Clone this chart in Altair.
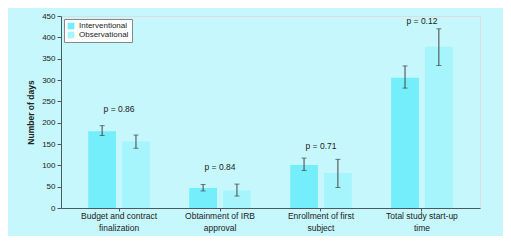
import altair as alt
import pandas as pd

categories = ["Budget and contract\nfinalization", "Obtainment of IRB\napproval",
              "Enrollment of first\nsubject", "Total study start-up\ntime"]
groups = ["Interventional", "Observational"]
interventional = [180, 47, 101, 305]
interventional_lo = [170, 40, 88, 281]
interventional_hi = [193, 55, 117, 333]
observational = [156, 41, 82, 378]
observational_lo = [140, 28, 48, 334]
observational_hi = [171, 56, 114, 420]
p_values = ["p = 0.86", "p = 0.84", "p = 0.71", "p = 0.12"]
p_label_y = [232, 95, 146, 438]
y_ticks = [0, 50, 100, 150, 200, 250, 300, 350, 400, 450]

rows = []
for i, c in enumerate(categories):
    rows.append({"cat": c, "group": groups[0], "val": interventional[i],
                 "lo": interventional_lo[i], "hi": interventional_hi[i]})
    rows.append({"cat": c, "group": groups[1], "val": observational[i],
                 "lo": observational_lo[i], "hi": observational_hi[i]})
df = pd.DataFrame(rows)
pdf = pd.DataFrame({"cat": categories, "p": p_values, "py": p_label_y})

FONT = "Liberation Sans"
xscale = alt.Scale(domain=categories, paddingInner=0.39, paddingOuter=0.27)
yscale = alt.Scale(domain=[0, 450], nice=False, zero=True)
x = alt.X("cat:N", scale=xscale, sort=categories,
          axis=alt.Axis(title=None, labelAngle=0, labelExpr="split(datum.label, '\\n')",
                        labelFontSize=8.5, labelLineHeight=12, labelPadding=0,
                        tickSize=3, labelColor="#222", domainColor="#4a5a60",
                        tickColor="#4a5a60"))
xo = alt.XOffset("group:N", scale=alt.Scale(domain=groups, paddingInner=0.18))
yaxis = alt.Axis(title="Number of days", values=y_ticks, tickCount=10, grid=False,
                 titleFontSize=8.5, titleFontWeight="bold", titleColor="#222",
                 labelFontSize=8, labelColor="#222", tickSize=4, labelPadding=2,
                 titlePadding=6, domainColor="#4a5a60", tickColor="#4a5a60")

bars = alt.Chart(df).mark_bar().encode(
    x=x, xOffset=xo, y=alt.Y("val:Q", scale=yscale, axis=yaxis),
    color=alt.Color("group:N", scale=alt.Scale(domain=groups, range=["#74eefa", "#a6f5fc"]),
                    legend=alt.Legend(title=None, orient="top-left", offset=3,
                                      symbolType="square", symbolSize=45,
                                      symbolStrokeWidth=0,
                                      labelFontSize=8, labelFont=FONT, labelColor="#222",
                                      rowPadding=1, padding=3, fillColor="white",
                                      strokeColor="#888", symbolOffset=0)))
rules = alt.Chart(df).mark_rule(color="#444", strokeWidth=1).encode(
    x=x, xOffset=xo, y=alt.Y("lo:Q", scale=yscale, axis=yaxis), y2="hi:Q")
ticks_hi = alt.Chart(df).mark_tick(color="#444", orient="horizontal", size=5, thickness=1).encode(
    x=x, xOffset=xo, y=alt.Y("hi:Q", scale=yscale, axis=yaxis))
ticks_lo = alt.Chart(df).mark_tick(color="#444", orient="horizontal", size=5, thickness=1).encode(
    x=x, xOffset=xo, y=alt.Y("lo:Q", scale=yscale, axis=yaxis))
texts = alt.Chart(pdf).mark_text(fontSize=8.5, font=FONT, color="#222").encode(
    x=x, y=alt.Y("py:Q", scale=yscale, axis=yaxis), text="p:N")

chart = alt.layer(bars, rules, ticks_hi, ticks_lo, texts).properties(
    width=495, height=228,
    autosize=alt.AutoSizeParams(type="fit", contains="padding"),
    padding={"left": 18, "top": 4, "right": 23, "bottom": 4},
    background="#c5f7fc",
).configure_view(fill="white", stroke=None).configure(font=FONT)

chart.save("out.html", embed_options={"renderer": "svg", "actions": False})
